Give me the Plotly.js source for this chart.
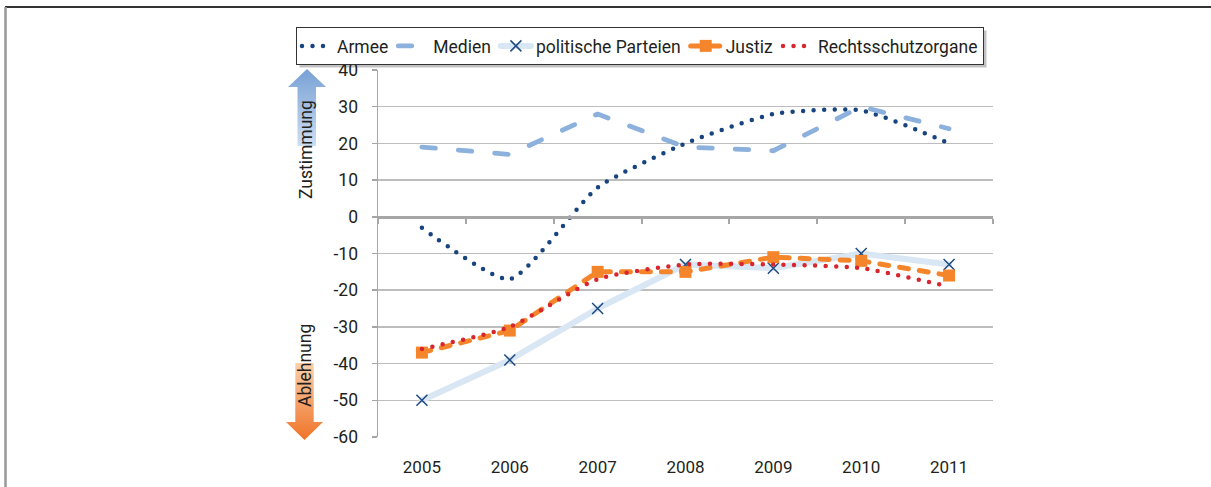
<!DOCTYPE html>
<html><head><meta charset="utf-8">
<script src="https://cdn.plot.ly/plotly-3.0.1.min.js"></script>
<style>
html,body{margin:0;padding:0;background:#fff;}
#chart{width:1211px;height:487px;}
.js-line{stroke-linecap:round;stroke-linejoin:round;}
</style></head><body>
<div id="chart"></div>
<script>
var years = ['2005','2006','2007','2008','2009','2010','2011'];
var armee = [-3, -17, 8, 20, 28, 29, 20];
var medien = [19, 17, 28, 19, 18, 30, 24];
var parteien = [-50, -39, -25, -13, -14, -10, -13];
var justiz = [-37, -31, -15, -15, -11, -12, -16];
var rechtsschutz = [-36, -30, -17, -13, -13, -14, -19];
var yTicks = [40, 30, 20, 10, 0, -10, -20, -30, -40, -50, -60];

var PX_L = 378, PX_R = 993, PX_T = 70, PX_B = 437;
var W = PX_R - PX_L, H = PX_B - PX_T;
function px(x){ return (x - PX_L) / W; }
function py(y){ return (PX_B - y) / H; }

var traces = [
  {x: years, y: armee, name: 'Armee', type: 'scatter', mode: 'lines',
   line: {color: '#17437e', width: 4.5, dash: '0px,10.5px', shape: 'spline', smoothing: 0.55}},
  {x: years, y: medien, name: 'Medien', type: 'scatter', mode: 'lines',
   line: {color: '#8db1dd', width: 4.8, dash: '13.5px,23px'}},
  {x: years, y: parteien, name: 'politische Parteien', type: 'scatter', mode: 'lines+markers',
   line: {color: '#d9e6f4', width: 6},
   marker: {symbol: 'x-thin-open', size: 11, color: '#1f4a80', line: {width: 1.5, color: '#1f4a80'}}},
  {x: years, y: justiz, name: 'Justiz', type: 'scatter', mode: 'lines+markers',
   line: {color: '#f5852b', width: 5, dash: '9px,11px'},
   marker: {symbol: 'square', size: 12, color: '#f5852b'}},
  {x: years, y: rechtsschutz, name: 'Rechtsschutzorgane', type: 'scatter', mode: 'lines',
   line: {color: '#d9262e', width: 4.5, dash: '0px,10.5px', shape: 'spline', smoothing: 0.6}},
  {x: [], y: [], xaxis: 'x2', showlegend: false, hoverinfo: 'skip', type: 'scatter', mode: 'lines'}
];

function svgUri(s){ return 'data:image/svg+xml;charset=utf-8,' + encodeURIComponent(s); }
var blueArrow = '<svg xmlns="http://www.w3.org/2000/svg" width="38" height="77" viewBox="0 0 38 77">' +
  '<defs><linearGradient id="g" x1="0" y1="0" x2="0" y2="1">' +
  '<stop offset="0" stop-color="#78a1d5"/><stop offset="1" stop-color="#cfdef1"/></linearGradient></defs>' +
  '<path d="M19,0 L38,18 L28,18 L28,77 L9.5,77 L9.5,18 L0,18 Z" fill="url(#g)"/></svg>';
var orangeArrow = '<svg xmlns="http://www.w3.org/2000/svg" width="37" height="77" viewBox="0 0 37 77">' +
  '<defs><linearGradient id="g" x1="0" y1="0" x2="0" y2="1">' +
  '<stop offset="0" stop-color="#fbd0ad"/><stop offset="1" stop-color="#ef7327"/></linearGradient></defs>' +
  '<path d="M9.3,0 L27.7,0 L27.7,59 L37,59 L18.5,77 L0,59 L9.3,59 Z" fill="url(#g)"/></svg>';

var font = 'Roboto, "Liberation Sans", sans-serif';
var layout = {
  width: 1211, height: 487,
  margin: {l: PX_L, r: 1211 - PX_R, t: PX_T, b: 487 - PX_B, pad: 0},
  paper_bgcolor: '#ffffff', plot_bgcolor: '#ffffff',
  font: {family: font, size: 17, color: '#231f20'},
  showlegend: true,
  legend: {orientation: 'h', x: px(296), y: py(27), xanchor: 'left', yanchor: 'top',
    bordercolor: '#333333', borderwidth: 1, bgcolor: '#ffffff',
    font: {family: font, size: 17.5, color: '#231f20'}, itemwidth: 30, tracegroupgap: 0},
  xaxis: {type: 'category', range: [-0.5, 6.5], showgrid: false, zeroline: false, showline: false,
    ticks: '', ticklabelstandoff: 18, tickfont: {size: 17, color: '#231f20'}, fixedrange: true},
  xaxis2: {overlaying: 'x', anchor: 'free', position: 0.6, range: [-0.5, 6.5], type: 'linear',
    tickmode: 'array', tickvals: [-0.5, 0.5, 1.5, 2.5, 3.5, 4.5, 5.5, 6.5],
    ticks: 'outside', ticklen: 5, tickwidth: 2, tickcolor: '#a6a6a6',
    showticklabels: false, showgrid: false, zeroline: false,
    showline: true, linewidth: 3, linecolor: '#a6a6a6'},
  yaxis: {range: [-60, 40], tickmode: 'array', tickvals: yTicks, ticktext: yTicks.map(String),
    showgrid: true, gridcolor: '#bdbdbd', gridwidth: 1.5, zeroline: false,
    showline: true, linecolor: '#a6a6a6', linewidth: 1.5,
    ticks: 'outside', ticklen: 5, tickcolor: '#a6a6a6', tickwidth: 1.5,
    ticklabelstandoff: 10, tickfont: {size: 17.5, color: '#231f20'}, fixedrange: true},
  images: [
    {source: svgUri(blueArrow), xref: 'paper', yref: 'paper', x: px(288), y: py(69),
     sizex: 38 / W, sizey: 77 / H, xanchor: 'left', yanchor: 'top', sizing: 'stretch', layer: 'above'},
    {source: svgUri(orangeArrow), xref: 'paper', yref: 'paper', x: px(286), y: py(363),
     sizex: 37 / W, sizey: 77 / H, xanchor: 'left', yanchor: 'top', sizing: 'stretch', layer: 'above'}
  ],
  annotations: [
    {text: 'Zustimmung', xref: 'paper', yref: 'paper', x: px(306), y: py(150), textangle: -90,
     showarrow: false, font: {family: font, size: 17.5, color: '#231f20'}, xanchor: 'center', yanchor: 'middle'},
    {text: 'Ablehnung', xref: 'paper', yref: 'paper', x: px(305), y: py(366), textangle: -90,
     showarrow: false, font: {family: font, size: 17.5, color: '#231f20'}, xanchor: 'center', yanchor: 'middle'}
  ],
  shapes: [
    {type: 'line', xref: 'paper', yref: 'paper', x0: px(5), x1: px(1211), y0: py(7), y1: py(7),
     line: {color: '#333333', width: 2}},
    {type: 'line', xref: 'paper', yref: 'paper', x0: px(5.5), x1: px(5.5), y0: py(7), y1: py(487),
     line: {color: '#999999', width: 2.5}},
    {type: 'rect', xref: 'paper', yref: 'paper', x0: px(299), x1: px(1003), y0: py(58), y1: py(30),
     line: {width: 0}, fillcolor: 'rgba(120,120,120,0.45)', layer: 'below', visible: false}
  ]
};

var gd = document.getElementById('chart');
Plotly.newPlot(gd, traces, layout, {displayModeBar: false, staticPlot: true}).then(function(){
  var bg = gd.querySelector('.legend .bg');
  if (!bg) return;
  var r = bg.getBoundingClientRect();
  var g = gd.getBoundingClientRect();
  var l = r.left - g.left, t = r.top - g.top;
  return Plotly.relayout(gd, {
    'shapes[2].x0': px(l + 3), 'shapes[2].x1': px(l + r.width + 3),
    'shapes[2].y0': py(t + r.height + 3), 'shapes[2].y1': py(t + 3),
    'shapes[2].visible': true
  });
});
</script>
</body></html>
